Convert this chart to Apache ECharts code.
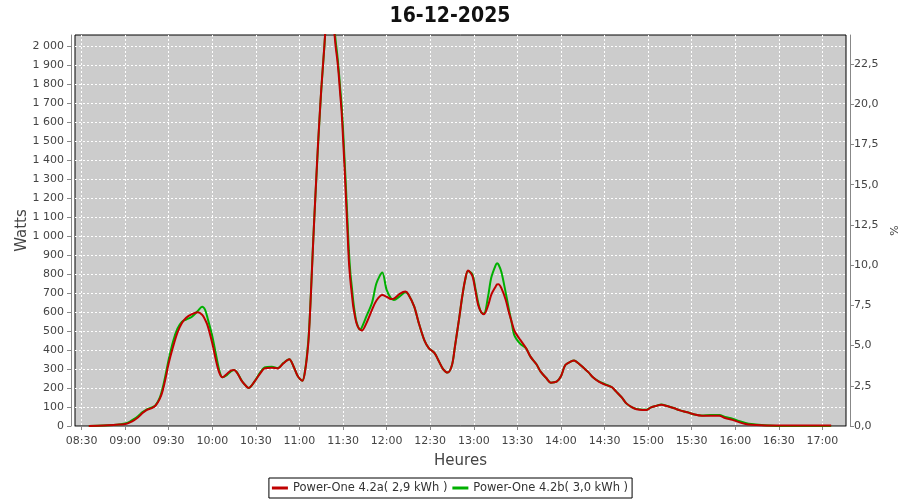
<!DOCTYPE html>
<html>
<head>
<meta charset="utf-8">
<script src="https://cdn.jsdelivr.net/npm/echarts@6/dist/echarts.min.js"></script>
<style>html,body{margin:0;padding:0;background:#fff}#c{width:900px;height:500px}</style>
</head>
<body>
<div id="c"></div>
<script>
const titleText = '16-12-2025';
const seriesNames = ['Power-One 4.2a( 2,9 kWh )', 'Power-One 4.2b( 3,0 kWh )'];
const times = ['08:35','08:45','08:52','08:57','09:00','09:03','09:06','09:09','09:12','09:15','09:18','09:21','09:24','09:26','09:28','09:30','09:33','09:36','09:39','09:42','09:46','09:50','09:53','09:55','09:57','10:00','10:03','10:05','10:07','10:10','10:13','10:15','10:17','10:20','10:22','10:25','10:29','10:33','10:36','10:41','10:45','10:49','10:53','10:56','10:59','11:02','11:04','11:06','11:07','11:08','11:09','11:10','11:11','11:12','11:13','11:14','11:15','11:16','11:17','11:18','11:19','11:20','11:21','11:22','11:23','11:24','11:25','11:26','11:27','11:28','11:29','11:30','11:31','11:32','11:33','11:34','11:35','11:36','11:37','11:38','11:39','11:40','11:41','11:42','11:43','11:46','11:50','11:53','11:57','12:00','12:03','12:05','12:09','12:13','12:15','12:19','12:22','12:26','12:29','12:33','12:36','12:39','12:42','12:45','12:47','12:50','12:52','12:54','12:56','12:59','13:01','13:03','13:05','13:07','13:10','13:12','13:15','13:16','13:17','13:19','13:22','13:24','13:26','13:28','13:32','13:36','13:39','13:43','13:46','13:50','13:53','13:57','14:00','14:03','14:07','14:09','14:12','14:15','14:19','14:22','14:26','14:30','14:35','14:38','14:42','14:45','14:49','14:52','14:56','14:59','15:02','15:06','15:09','15:13','15:18','15:22','15:27','15:32','15:37','15:43','15:49','15:53','15:58','16:03','16:07','16:11','16:18','16:30','17:06'];
const wattsA = [0,2,5,8,10,18,30,46,68,85,93,108,145,190,256,330,417,491,540,570,589,598,585,560,523,435,330,277,256,274,292,295,281,240,221,200,233,277,303,307,303,330,351,312,260,238,295,427,550,715,890,1059,1216,1368,1514,1645,1771,1878,1985,2095,2170,2221,2247,2224,2169,2073,1990,1930,1850,1750,1655,1514,1365,1201,1035,870,770,698,630,585,548,525,512,505,502,540,612,660,689,680,668,670,695,707,692,628,545,450,410,383,340,298,281,321,417,570,680,768,818,790,716,637,600,588,637,690,733,745,746,725,663,602,550,500,453,409,365,326,286,251,228,233,262,321,340,345,330,310,282,256,233,219,204,181,149,119,98,88,84,84,98,107,112,105,93,82,72,60,54,54,54,42,32,19,11,7,4,2,2];
const wattsB = [0,2,5,9,13,22,36,53,73,88,96,110,152,205,275,350,445,512,548,560,575,605,628,612,560,472,358,288,256,268,288,295,282,242,221,200,233,282,308,312,305,332,351,312,260,238,300,440,560,720,895,1060,1210,1360,1505,1640,1765,1875,1980,2090,2165,2220,2250,2235,2185,2100,2020,1955,1875,1780,1690,1560,1410,1255,1090,925,810,735,660,600,555,530,512,508,520,575,650,751,807,716,672,663,682,703,692,628,545,450,410,383,340,298,281,321,417,570,678,765,815,798,728,650,598,592,690,780,845,856,850,810,700,620,545,475,432,409,365,326,286,251,228,233,262,321,340,345,330,310,282,256,235,221,204,181,149,119,98,90,86,86,98,107,113,105,93,82,72,60,55,58,58,48,38,25,16,10,5,0,0];

function toMin(s){const p=s.split(':');return (+p[0])*60+(+p[1]);}
function pad(n){return (n<10?'0':'')+n;}
function fmtTime(v){const m=Math.round(v);return pad(Math.floor(m/60))+':'+pad(m%60);}
function fmtW(v){v=Math.round(v);if(v>=1000){return Math.floor(v/1000)+' '+String(v%1000).padStart(3,'0');}return String(v);}
function fmtPct(v){return v.toFixed(1).replace('.',',');}

const dataA = times.map((t,i)=>[toMin(t), wattsA[i]]);
const dataB = times.map((t,i)=>[toMin(t), wattsB[i]]);

const FONT = 'DejaVu Sans';
const gridLine = {show:true,showMinLine:false,showMaxLine:false,lineStyle:{color:'#ffffff',type:[2,2],width:1}};
const chart = echarts.init(document.getElementById('c'), null, {renderer:'canvas'});
chart.setOption({
  animation:false,
  backgroundColor:'#ffffff',
  title:{text:titleText,left:'center',top:1,textStyle:{fontFamily:'DejaVu Sans Condensed',fontWeight:'bold',fontSize:21,color:'#111'}},
  grid:{left:75,right:54,top:35,bottom:74,show:true,backgroundColor:'#cccccc',borderColor:'#000',borderWidth:1,containLabel:false,outerBoundsMode:'none'},
  legend:{data:seriesNames,bottom:2,left:'center',icon:'rect',itemWidth:16,itemHeight:3,itemGap:5,
    borderColor:'#000',borderWidth:1,padding:[4,4,4,3],textStyle:{fontFamily:FONT,fontSize:11.5,color:'#333'}},
  xAxis:{type:'value',min:505.5,max:1036.2,minInterval:30,maxInterval:30,splitNumber:18,offset:4,
    name:'Heures',nameLocation:'middle',nameGap:24,nameTextStyle:{fontFamily:FONT,fontSize:15,color:'#444'},
    axisLine:{show:true,lineStyle:{color:'#888'}},
    axisTick:{show:true,length:4,lineStyle:{color:'#888'}},
    axisLabel:{formatter:fmtTime,showMinLabel:false,showMaxLabel:false,margin:6,fontFamily:FONT,fontSize:11,color:'#444'},
    splitLine:gridLine},
  yAxis:[
    {type:'value',min:0,max:2057,interval:100,offset:4,position:'left',
     name:'Watts',nameLocation:'middle',nameGap:41,nameMoveOverlap:false,nameTextStyle:{fontFamily:FONT,fontSize:15,color:'#444'},
     axisLine:{show:true,lineStyle:{color:'#888'}},
     axisTick:{show:true,length:4,lineStyle:{color:'#888'}},
     axisLabel:{formatter:fmtW,showMaxLabel:false,margin:7,fontFamily:FONT,fontSize:11,color:'#444'},
     splitLine:gridLine},
    {type:'value',min:0,max:24.3,interval:2.5,offset:4,position:'right',
     name:'%',nameLocation:'middle',nameGap:31,nameTextStyle:{fontFamily:FONT,fontSize:11,color:'#444'},
     axisLine:{show:true,lineStyle:{color:'#888'}},
     axisTick:{show:true,length:4,lineStyle:{color:'#888'}},
     axisLabel:{formatter:fmtPct,showMaxLabel:false,margin:4,fontFamily:FONT,fontSize:11,color:'#444'},
     splitLine:{show:false}}
  ],
  series:[
    {name:seriesNames[1],type:'line',data:dataB,showSymbol:false,symbol:'none',smooth:0.3,
     lineStyle:{color:'#00b000',width:2},itemStyle:{color:'#00b000'},z:2},
    {name:seriesNames[0],type:'line',data:dataA,showSymbol:false,symbol:'none',smooth:0.3,
     lineStyle:{color:'#c00000',width:2},itemStyle:{color:'#c00000'},z:3}
  ]
});
</script>
</body>
</html>
